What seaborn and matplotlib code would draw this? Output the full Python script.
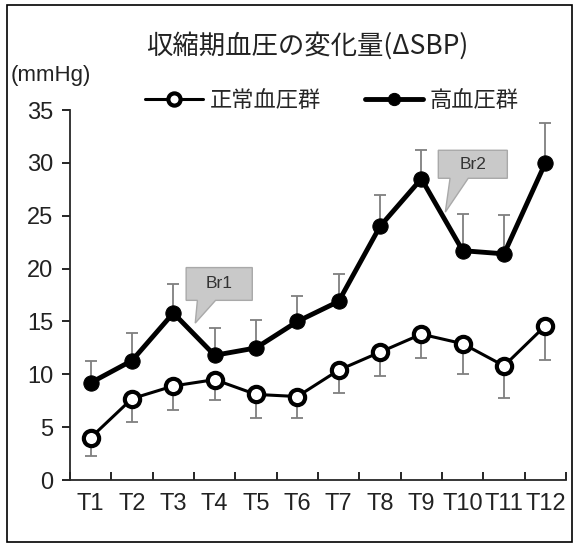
"""
Change of systolic blood pressure (ΔSBP), normal vs hypertensive group
"""
import numpy as np
import pandas as pd
import matplotlib
matplotlib.use("Agg")
import matplotlib.pyplot as plt
from matplotlib.patches import Polygon, Rectangle
import seaborn as sns

times = ['T1', 'T2', 'T3', 'T4', 'T5', 'T6', 'T7', 'T8', 'T9', 'T10', 'T11', 'T12']
normal_mean = [4.0, 7.7, 8.9, 9.5, 8.1, 7.9, 10.4, 12.1, 13.8, 12.9, 10.8, 14.6]
normal_sd = [1.7, 2.2, 2.3, 1.9, 2.2, 2.0, 2.2, 2.3, 2.3, 2.9, 3.0, 3.2]
hyper_mean = [9.2, 11.3, 15.8, 11.8, 12.5, 15.0, 16.9, 24.0, 28.5, 21.7, 21.4, 30.0]
hyper_sd = [2.1, 2.6, 2.7, 2.6, 2.6, 2.4, 2.6, 3.0, 2.7, 3.5, 3.7, 3.8]
group_names = ['正常血圧群', '高血圧群']
callouts = [('Br1', 2.31, 3.91, 17.0, 20.1, 2.53, 14.85),
            ('Br2', 8.41, 10.08, 28.55, 31.2, 8.58, 25.35)]

df = pd.DataFrame({'time': times * 2,
                   'value': normal_mean + hyper_mean,
                   'group': [group_names[0]] * 12 + [group_names[1]] * 12})

sns.set_style("ticks")
plt.rcParams['font.family'] = ['Liberation Sans', 'Noto Sans CJK JP', 'DejaVu Sans']

fig = plt.figure(figsize=(5.77, 5.44), dpi=100)
ax = fig.add_axes([0.1213, 0.1176, 0.8597, 0.680])

x = np.arange(len(times))
ax.errorbar(x, normal_mean, yerr=[normal_sd, np.zeros(12)], fmt='none',
            ecolor='#7f7f7f', elinewidth=1.3, capsize=4.5, capthick=1.3, zorder=1)
ax.errorbar(x, hyper_mean, yerr=[np.zeros(12), hyper_sd], fmt='none',
            ecolor='#7f7f7f', elinewidth=1.3, capsize=4.5, capthick=1.3, zorder=1)

sns.lineplot(data=df[df.group == group_names[0]], x='time', y='value', ax=ax,
             color='black', lw=2.2, marker='o', markersize=11,
             markerfacecolor='white', markeredgecolor='black', markeredgewidth=3,
             label=group_names[0], zorder=3)
sns.lineplot(data=df[df.group == group_names[1]], x='time', y='value', ax=ax,
             color='black', lw=3.5, marker='o', markersize=11,
             markerfacecolor='black', markeredgecolor='black',
             label=group_names[1], zorder=3)

for txt, x0, x1, y0, y1, tx, ty in callouts:
    bx = x0 + (x1 - x0) * 0.17
    poly = Polygon([(x0, y0), (x0, y1), (x1, y1), (x1, y0), (bx + 0.44, y0),
                    (tx, ty), (bx, y0)], closed=True,
                   facecolor='#c9c9c9', edgecolor='#a9a9a9', lw=1, zorder=4)
    ax.add_patch(poly)
    ax.text((x0 + x1) / 2, (y0 + y1) / 2, txt, ha='center', va='center',
            fontsize=12.5, color='#333333', zorder=5)

ax.set_xlim(-0.5, 11.5)
ax.set_ylim(0, 35)
ax.set_yticks(range(0, 36, 5))
ax.set_xticks(np.arange(-0.5, 12, 1), minor=False)
ax.set_xticklabels([])
ax.set_xticks(x, minor=True)
ax.set_xticklabels(times, minor=True)
ax.tick_params(axis='x', which='major', direction='in', length=6, width=1.2)
ax.tick_params(axis='x', which='minor', length=0, labelsize=17, pad=9)
ax.tick_params(axis='y', direction='out', length=6, width=1.2, labelsize=17, pad=6)
ax.tick_params(colors='black', which='both', labelcolor='#222222')
for s in ['top', 'right']:
    ax.spines[s].set_visible(False)
for s in ['left', 'bottom']:
    ax.spines[s].set_linewidth(1.3)
ax.set_xlabel('')
ax.set_ylabel('')

ax.legend_.remove()
handles, labels = ax.get_legend_handles_labels()
fig.legend(handles, labels, loc='center', bbox_to_anchor=(0.575, 0.816), ncol=2,
           frameon=False, handlelength=2.6, columnspacing=2.0, markerscale=0.8,
           handletextpad=0.3, prop={'family': ['Noto Sans CJK JP'], 'size': 16})

fig.text(0.533, 0.915, '収縮期血圧の変化量(ΔSBP)', ha='center', va='center',
         fontsize=19, color='#222222', family=['Noto Sans CJK JP', 'DejaVu Sans'])
fig.text(0.088, 0.862, '(mmHg)', ha='center', va='center', fontsize=16,
         color='#222222')

fig.add_artist(Rectangle((7 / 577, 1 - 542 / 544), 565 / 577, 537 / 544,
                         transform=fig.transFigure, fill=False,
                         edgecolor='black', lw=1.2))

fig.savefig('out.png', dpi=100)
